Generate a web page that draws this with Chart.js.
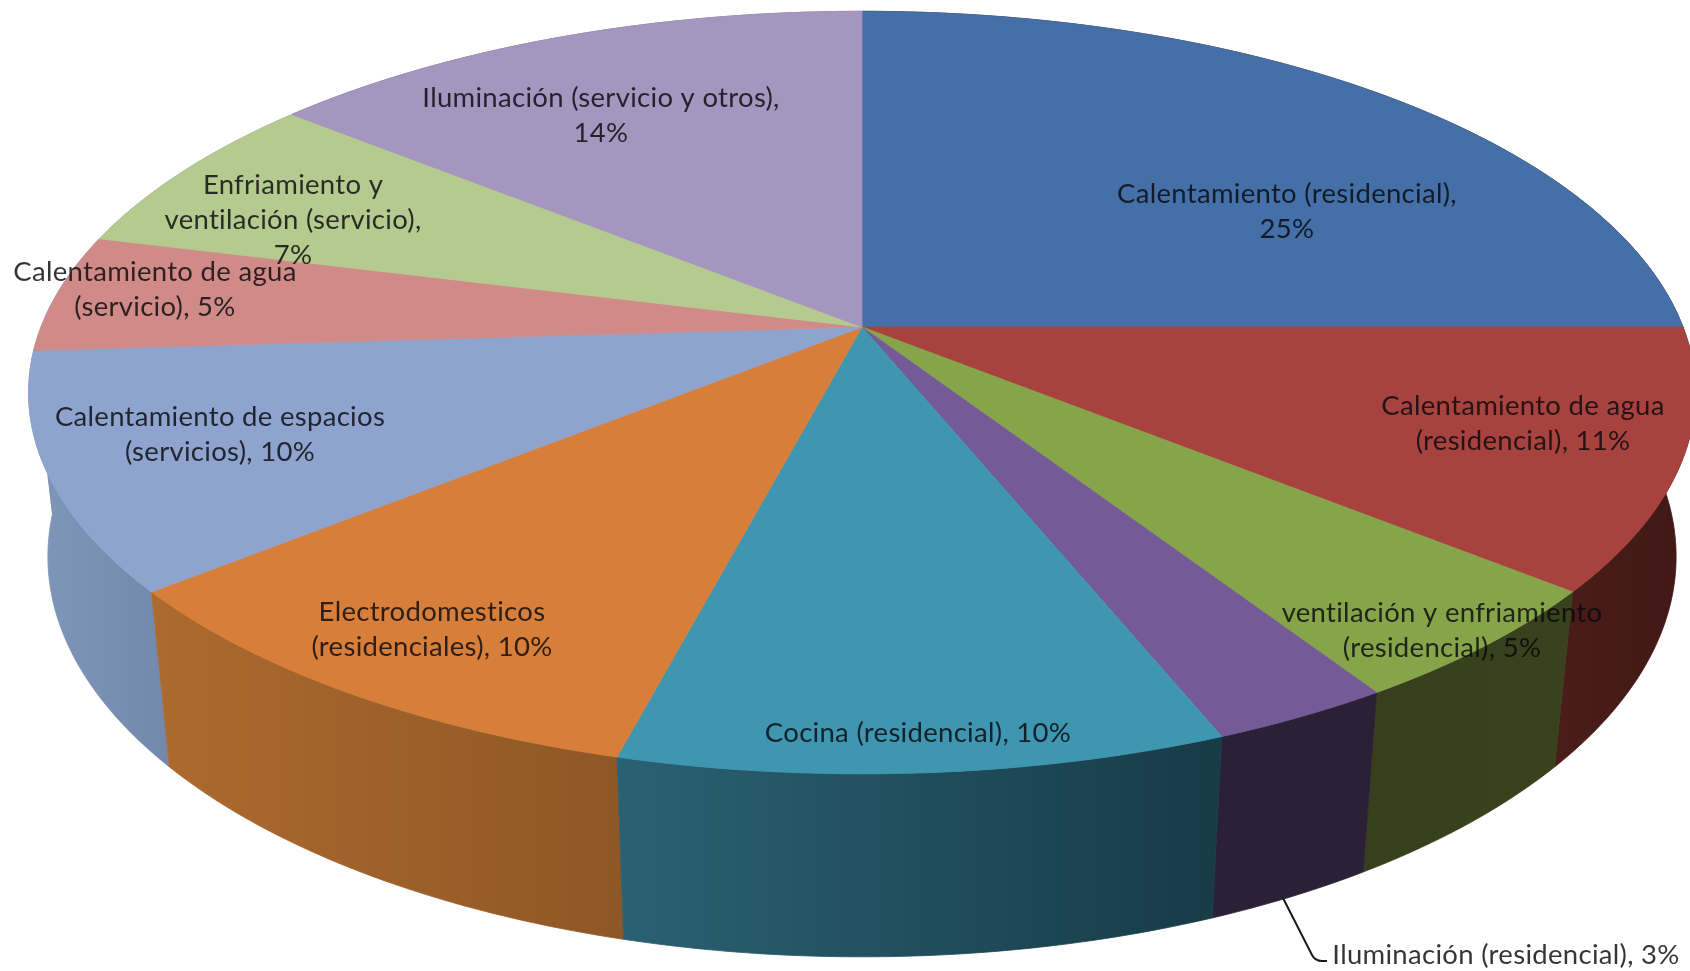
<!DOCTYPE html>
<html>
<head>
<meta charset="utf-8">
<style>
  html, body { margin: 0; padding: 0; background: #fff; }
  canvas { display: block; }
</style>
<script src="https://cdn.jsdelivr.net/npm/chart.js@4"></script>
</head>
<body>
<canvas id="pieChart" width="1690" height="971"></canvas>
<script>
const categories = [
  'Calentamiento (residencial)',
  'Calentamiento de agua (residencial)',
  'ventilación y enfriamiento (residencial)',
  'Iluminación (residencial)',
  'Cocina (residencial)',
  'Electrodomesticos (residenciales)',
  'Calentamiento de espacios (servicios)',
  'Calentamiento de agua (servicio)',
  'Enfriamiento y ventilación (servicio)',
  'Iluminación (servicio y otros)'
];
const percentages = [25, 11, 5, 3, 10, 10, 10, 5, 7, 14];

const topColors = ['#4570a7', '#a8423f', '#86a44a', '#745a96', '#3f96b0', '#d77f3a', '#8ea4cf', '#d08b88', '#b5ca8f', '#a496bf'];
// left and right colour of each side wall
const wallColors = [
  ['#4a1d19', '#4a1d19'], ['#4a1d19', '#401815'], ['#373f1c', '#39411d'], ['#2b2035', '#2b2035'],
  ['#2a6173', '#173b47'], ['#ad6a2e', '#8e5726'], ['#8096ba', '#7389ac'], ['#8096ba', '#8096ba'],
  ['#8096ba', '#8096ba'], ['#6f6682', '#6f6682']
];

// text lines of each label, with centre x and y of the first line
const labelLines = [
  ['Calentamiento (residencial),', '25%'],
  ['Calentamiento de agua', '(residencial), 11%'],
  ['ventilación y enfriamiento', '(residencial), 5%'],
  ['Iluminación (residencial), 3%'],
  ['Cocina (residencial), 10%'],
  ['Electrodomesticos', '(residenciales), 10%'],
  ['Calentamiento de espacios', '(servicios), 10%'],
  ['Calentamiento de agua', '(servicio), 5%'],
  ['Enfriamiento y', 'ventilación (servicio),', '7%'],
  ['Iluminación (servicio y otros),', '14%']
];
const labelAnchors = [
  [1287, 194.5], [1523, 406.5], [1442, 613.5], [1506, 955], [918, 733.5],
  [432, 612.5], [220, 417.5], [155, 272], [293, 185.5], [601, 98.5]
];

// perspective of the disc: centre, radii, tilt, and how the lower rim shifts
const view = { cx: 862, cy: 327, rx: 821, ry: 370, tilt: 0.172, depthW: 0.023, depthY: 166 };

function project(angle, low) {
  const u = Math.cos(angle), v = Math.sin(angle);
  const w = 1 - view.tilt * v + (low ? view.depthW : 0);
  return {
    x: view.cx + view.rx * u / w,
    y: view.cy + (view.ry * v + (low ? view.depthY : 0)) / w
  };
}

function arcPoints(start, end, low) {
  const pts = [];
  const n = Math.max(2, Math.ceil((end - start) * 60));
  for (let i = 0; i <= n; i++) {
    pts.push(project(start + (end - start) * i / n, low));
  }
  return pts;
}

function fillPath(ctx, pts, fill) {
  ctx.beginPath();
  pts.forEach((p, i) => i ? ctx.lineTo(p.x, p.y) : ctx.moveTo(p.x, p.y));
  ctx.closePath();
  ctx.fillStyle = fill;
  ctx.strokeStyle = fill;
  ctx.lineWidth = 0.8;
  ctx.fill();
  ctx.stroke();
}

const perspectivePie = {
  id: 'perspectivePie',
  beforeDatasetDraw(chart) {
    const ctx = chart.ctx;
    const arcs = chart.getDatasetMeta(0).data;
    ctx.save();
    ctx.lineJoin = 'round';

    // side walls back to front, so a rear wall never pokes over a nearer one
    const midSin = arc => {
      const p = arc.getProps(['startAngle', 'endAngle'], true);
      return Math.sin((p.startAngle + p.endAngle) / 2);
    };
    const order = arcs.map((arc, i) => i).sort((a, b) => midSin(arcs[a]) - midSin(arcs[b]));
    order.forEach(i => {
      const { startAngle, endAngle } = arcs[i].getProps(['startAngle', 'endAngle'], true);
      const top = arcPoints(startAngle, endAngle, false);
      const low = arcPoints(startAngle, endAngle, true);
      const xs = top.concat(low).map(p => p.x);
      const grad = ctx.createLinearGradient(Math.min(...xs), 0, Math.max(...xs), 0);
      grad.addColorStop(0, wallColors[i][0]);
      grad.addColorStop(1, wallColors[i][1]);
      fillPath(ctx, top.concat(low.reverse()), grad);
    });

    arcs.forEach(arc => {
      const { startAngle, endAngle } = arc.getProps(['startAngle', 'endAngle'], true);
      const pts = arcPoints(startAngle, endAngle, false);
      pts.push({ x: view.cx, y: view.cy });
      fillPath(ctx, pts, arc.options.backgroundColor);
    });

    // leader line of the small slice
    ctx.beginPath();
    ctx.moveTo(1283, 898);
    ctx.lineTo(1312, 955);
    ctx.quadraticCurveTo(1315, 961, 1322, 961);
    ctx.lineTo(1327, 961);
    ctx.strokeStyle = '#1a1a1a';
    ctx.lineWidth = 2;
    ctx.stroke();

    ctx.font = '27.5px Lato';
    ctx.letterSpacing = '0.3px';
    ctx.textAlign = 'center';
    ctx.textBaseline = 'middle';
    ctx.fillStyle = 'rgba(8, 8, 12, 0.82)';
    ctx.filter = 'blur(0.4px)';
    labelLines.forEach((lines, i) => {
      lines.forEach((line, j) => {
        ctx.fillText(line, labelAnchors[i][0], labelAnchors[i][1] + j * 35);
      });
    });
    ctx.restore();
    return false;
  }
};

new Chart(document.getElementById('pieChart').getContext('2d'), {
  type: 'pie',
  data: {
    labels: categories,
    datasets: [{ data: percentages, backgroundColor: topColors }]
  },
  options: {
    responsive: false,
    animation: false,
    plugins: { legend: { display: false }, tooltip: { enabled: false } }
  },
  plugins: [perspectivePie]
});
</script>
</body>
</html>
